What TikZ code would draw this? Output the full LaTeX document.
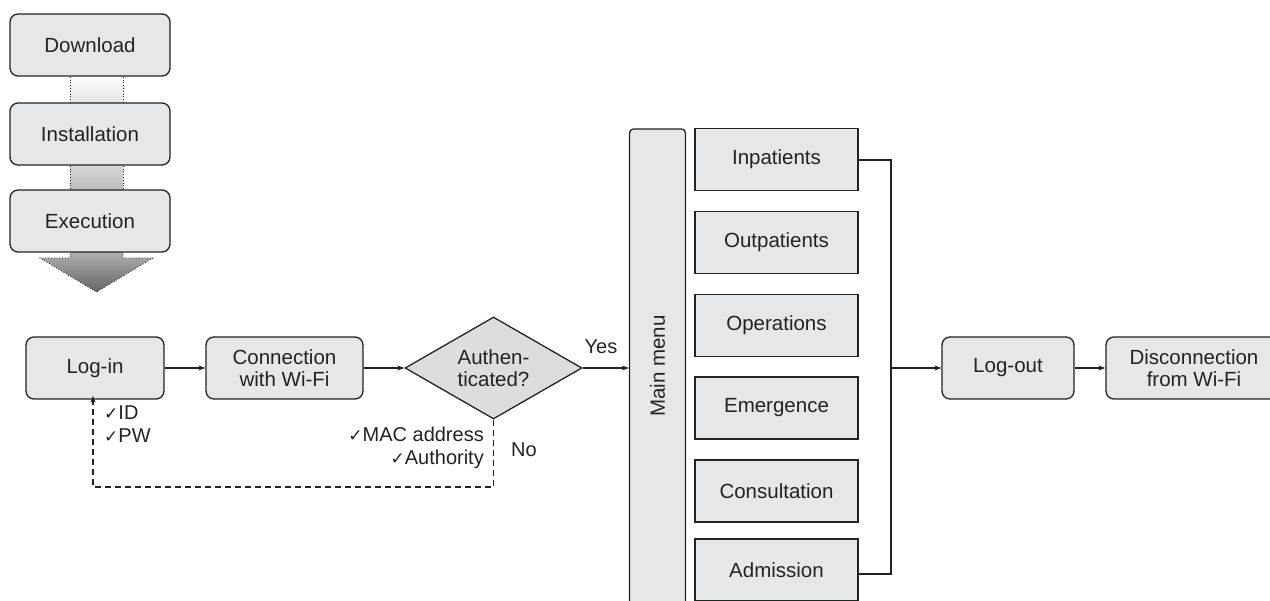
\documentclass[tikz,border=0pt]{standalone}
\usepackage{fontspec}
\setmainfont{Liberation Sans}
\newfontfamily\dejavu{DejaVu Sans}
\usetikzlibrary{shapes.geometric,arrows.meta}
\definecolor{boxfill}{HTML}{E6E7E8}
\definecolor{dmfill}{HTML}{DCDDDE}
\definecolor{ink}{HTML}{232323}
\newcommand\ck{{\dejavu\fontsize{17}{17}\selectfont ✓}}
\tikzset{
  base/.style={draw=ink, fill=boxfill, line width=1.3pt, align=center, inner sep=0pt,
    font=\fontsize{20.5}{22}\selectfont, text=ink},
  rbox/.style={base, rounded corners=8pt, minimum height=62pt},
  sbox/.style={base, minimum width=163pt, minimum height=62pt},
  arr/.style={draw=ink, line width=1.3pt, -{Stealth[length=7pt,width=5pt]}},
  plain/.style={draw=ink, line width=1.3pt},
  lbl/.style={font=\fontsize{20}{23}\selectfont, text=ink, inner sep=0pt},
}
\begin{document}
\begin{tikzpicture}[x=1pt,y=-1pt]
\clip (0,0) rectangle (1270,601);
\fill[white] (0,0) rectangle (1270,601);
% gradient connectors
\shade[top color=white, bottom color=gray!22] (70,74) rectangle (123,105);
\draw[ink, dotted, line width=0.8pt] (70,74) -- (70,105) (123,74) -- (123,105);
\shade[top color=gray!28, bottom color=gray!55] (70,163) rectangle (123,192);
\draw[ink, dotted, line width=0.8pt] (70,163) -- (70,192) (123,163) -- (123,192);
\shade[top color=gray!60, bottom color=gray!80!black] (70,250) -- (70,258) -- (40,258) -- (96.5,292) -- (153,258) -- (123,258) -- (123,250) -- cycle;
\draw[ink, dotted, line width=0.8pt] (70,251) -- (70,258) -- (40,258) -- (96.5,292) -- (153,258) -- (123,258) -- (123,251);
% top boxes
\node[rbox, minimum width=160pt] (download) at (90,45) {Download};
\node[rbox, minimum width=160pt] (install) at (90,134) {Installation};
\node[rbox, minimum width=160pt] (exec) at (90,221) {Execution};
% main row
\node[rbox, minimum width=138pt] (login) at (95,368) {Log-in};
\node[rbox, minimum width=157pt] (conn) at (284.5,368) {Connection\\with Wi-Fi};
\node[base, fill=dmfill, diamond, aspect=1.735, minimum width=177pt, minimum height=102pt] (auth) at (493.5,368) {Authen-\\ticated?};
\node[base, rounded corners=4pt, minimum width=56pt, minimum height=520pt] (mm) at (657.5,389) {};
\node[lbl, font=\fontsize{20.5}{22}\selectfont, rotate=90] (mmlabel) at (657.5,366) {Main menu};
\node[sbox] (inp) at (776.5,159.5) {Inpatients};
\node[sbox] (outp) at (776.5,242.5) {Outpatients};
\node[sbox] (oper) at (776.5,325.5) {Operations};
\node[sbox] (emer) at (776.5,408) {Emergence};
\node[sbox] (cons) at (776.5,491) {Consultation};
\node[sbox] (adm) at (776.5,570) {Admission};
\node[rbox, minimum width=132pt] (logout) at (1008,368) {Log-out};
\node[rbox, minimum width=176pt] (disc) at (1194,368) {Disconnection\\from Wi-Fi};
% connectors
\draw[arr] (login) -- (conn);
\draw[arr] (conn) -- (auth);
\draw[arr] (auth.east) -- (auth.east -| mm.west);
\coordinate (bustop) at (891,160);
\coordinate (busbot) at (891,574);
\draw[plain] (bustop -| inp.east) -- (bustop) -- (busbot) -- (busbot -| adm.east);
\draw[arr] (bustop |- logout.west) -- (logout.west);
\draw[arr] (logout) -- (disc);
\coordinate (fb) at (93,487);
\draw[arr, dash pattern=on 6pt off 4pt] (auth.south) -- (auth.south |- fb) -- (fb) -- ([yshift=4pt]fb |- login.south);
% labels
\node[lbl] (yes) at (601,347) {Yes};
\node[lbl, anchor=west] (no) at (511,450) {No};
\node[lbl, anchor=base west, align=left] (idpw) at (104,443) {\ck ID\\\ck PW};
\node[lbl, anchor=base east, align=right] (mac) at (484,465) {\ck MAC address\\\ck Authority};
\end{tikzpicture}
\end{document}
